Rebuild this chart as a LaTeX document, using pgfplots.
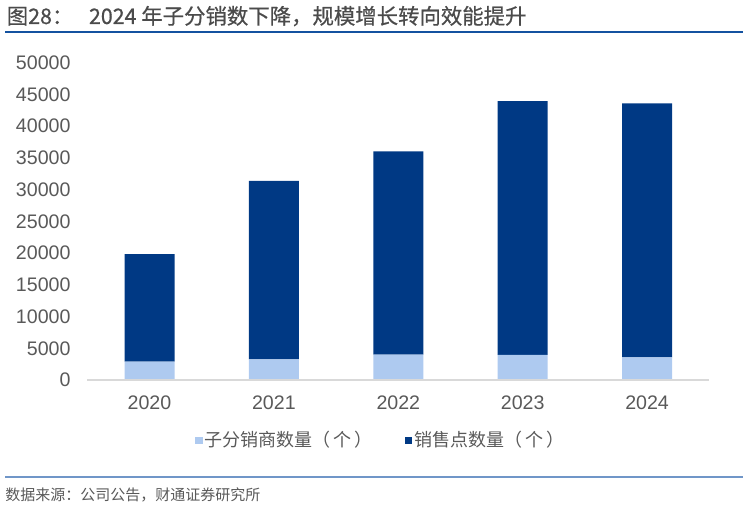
\documentclass[border=0pt]{standalone}
\usepackage{fontspec}
\setmainfont{Liberation Sans}
\newfontfamily\cjk{Noto Sans CJK SC}
\newfontfamily\cjkt{Noto Sans CJK SC}[FakeBold=0.6]
\usepackage{pgfplots}
\pgfplotsset{compat=1.18}
\definecolor{darkbar}{RGB}{0,57,132}
\definecolor{lightbar}{RGB}{174,202,240}
\definecolor{txtgray}{RGB}{89,89,89}
\definecolor{titlegray}{RGB}{75,75,75}
\definecolor{titleblue}{RGB}{20,82,160}
\definecolor{footblue}{RGB}{112,150,200}
\definecolor{axgray}{RGB}{217,217,217}
\begin{document}
\begin{tikzpicture}
\useasboundingbox (0,0) rectangle (374pt,253.5pt);
% title and rules
\node[anchor=base west, inner sep=0pt, text=titlegray, font=\cjkt\fontsize{10.7}{12}\selectfont] at (3.2pt,241.5pt) {图28：};
\node[anchor=base west, inner sep=0pt, text=titlegray, font=\cjkt\fontsize{10.7}{12}\selectfont] at (44.3pt,241.5pt) {2024 年子分销数下降，规模增长转向效能提升};
\draw[titleblue, line width=0.75pt] (2.5pt,237.5pt) -- (371.5pt,237.5pt);
\draw[footblue, line width=0.75pt] (2.5pt,15pt) -- (371.5pt,15pt);
\node[anchor=base west, inner sep=0pt, text=txtgray, font=\cjk\fontsize{7.5}{9}\selectfont] at (2.5pt,3pt) {数据来源：公司公告，财通证券研究所};

\begin{axis}[
  at={(43.65pt,63.5pt)}, anchor=south west,
  width=311pt, height=158.65pt, scale only axis,
  ybar stacked, bar width=25pt,
  xmin=-0.5, xmax=4.5, ymin=0, ymax=50000,
  xtick={0,1,2,3,4}, xticklabels={2020,2021,2022,2023,2024},
  ytick={0,5000,...,50000},
  scaled y ticks=false,
  axis line style={draw=none}, major tick length=0pt,
  clip=false,
  tick label style={font=\fontsize{9.8}{11}\selectfont, text=txtgray},
  /pgf/number format/assume math mode=true,
  /pgf/number format/1000 sep={},
  yticklabel style={anchor=east, inner sep=0pt, xshift=-8.2pt},
  xticklabel style={anchor=north, inner sep=0pt, yshift=-7.5pt},
  legend columns=2,
  legend style={at={(0.472,-0.19)}, anchor=center, draw=none, fill=none,
    font=\cjk\fontsize{9}{10}\selectfont, text=txtgray,
    nodes={inner sep=1pt},
    /tikz/every even column/.append style={column sep=15pt}},
  legend image code/.code={\fill[#1, draw=none] (0pt,-1.75pt) rectangle (3.8pt,1.75pt);},
]
  \draw[axgray, line width=0.75pt] (rel axis cs:0,0) -- (rel axis cs:1,0);

  \addplot[fill=lightbar, draw=none] coordinates {
    (0,2890) (1,3260) (2,3990) (3,3940) (4,3570)
  };
  \addlegendentry{子分销商数量（\hspace{1.5pt}个\hspace{1.5pt}）}

  \addplot[fill=darkbar, draw=none] coordinates {
    (0,16960) (1,28100) (2,32050) (3,40020) (4,40030)
  };
  \addlegendentry{销售点数量（\hspace{1.5pt}个\hspace{1.5pt}）}
\end{axis}
\end{tikzpicture}
\end{document}
